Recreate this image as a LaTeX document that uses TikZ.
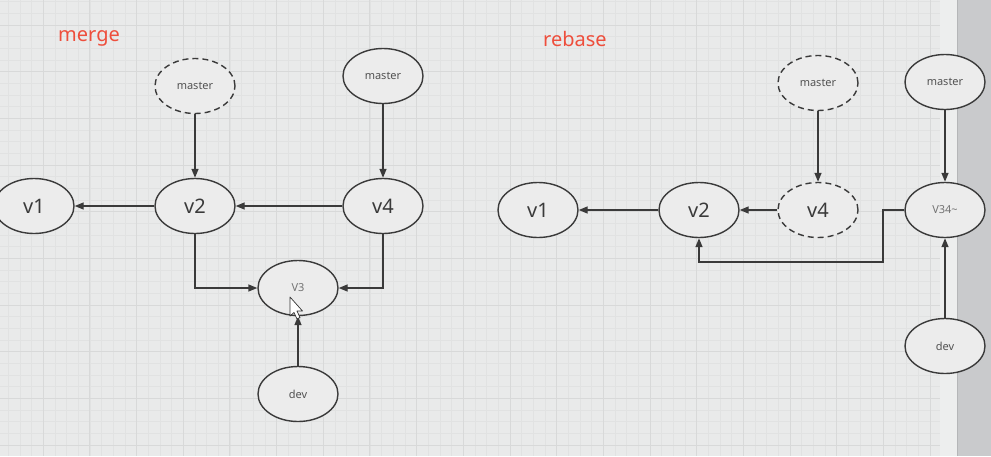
\documentclass[tikz,border=0pt]{standalone}
\usepackage{fontspec}
\setmainfont{Noto Sans}
\usetikzlibrary{arrows.meta,shapes.geometric}
\definecolor{bg}{HTML}{E9EAEA}
\definecolor{gminor}{HTML}{E1E2E2}
\definecolor{gmajor}{HTML}{D8D9D9}
\definecolor{strip}{HTML}{EDEEEE}
\definecolor{bar}{HTML}{C9CACC}
\definecolor{barline}{HTML}{B5B6B8}
\definecolor{ln}{HTML}{3A3A3A}
\definecolor{nodefill}{HTML}{ECECEC}
\definecolor{redtxt}{HTML}{EE4E3C}
\begin{document}
\begin{tikzpicture}[x=1pt,y=-1pt,
  commit/.style={ellipse,draw=ln,line width=1.4pt,fill=nodefill,minimum width=80pt,minimum height=55pt,inner sep=0pt,text=ln,font=\fontsize{20}{22}\selectfont},
  small/.style={commit,font=\fontsize{11}{13}\selectfont,text=black!68},
  ghost/.style={dash pattern=on 6pt off 4pt},
  conn/.style={draw=ln,line width=1.4pt,-{Triangle[length=9pt,width=7pt]}},
  title/.style={text=redtxt,font=\fontsize{20}{22}\selectfont}]
\useasboundingbox (0,0) rectangle (991,456);
% background
\fill[bg] (0,0) rectangle (940,456);
\fill[strip] (940,0) rectangle (957,456);
\fill[bar] (957,0) rectangle (991,456);
\draw[barline,line width=1.5pt] (957.5,0) -- (957.5,456);
\foreach \i in {0,...,79} {\draw[gminor,line width=0.8pt] ({8.33+11.667*\i},0) -- ++(0,456);}
\foreach \j in {0,...,38} {\draw[gminor,line width=0.8pt] (0,{1.6+11.667*\j}) -- (940,{1.6+11.667*\j});}
\foreach \i in {0,...,19} {\draw[gmajor,line width=1pt] ({43.3+46.67*\i},0) -- ++(0,456);}
\foreach \j in {0,...,9} {\draw[gmajor,line width=1pt] (0,{25+46.67*\j}) -- (940,{25+46.67*\j});}
% titles
\node[title] (tmerge) at (89,38) {merge};
\node[title] (trebase) at (575,39) {rebase};
% merge
\node[small,ghost] (mmd) at (195,86) {master};
\node[small] (mms) at (383,76) {master};
\node[commit] (mv1) at (34,206) {v1};
\node[commit] (mv2) at (195,206) {v2};
\node[commit] (mv4) at (383,206) {v4};
\node[small,text=black!55] (mv3) at (298,288) {V3};
\node[small] (mdev) at (298,394) {dev};
\draw[conn] (mmd.south) -- (mv2.north);
\draw[conn] (mms.south) -- (mv4.north);
\draw[conn] (mv2.west) -- (mv1.east);
\draw[conn] (mv4.west) -- (mv2.east);
\draw[conn] (mv2.south) |- (mv3.west);
\draw[conn] (mv4.south) |- (mv3.east);
\draw[conn] (mdev.north) -- (mv3.south);
% cursor
\draw[black!80,fill=white,line width=0.7pt,line join=round] (290,297) -- (290,316) -- (294,312.5) -- (297,319) -- (300,317.5) -- (297,311) -- (302.5,311) -- cycle;
% rebase
\node[small,ghost] (rmd) at (818,83) {master};
\node[small] (rms) at (945,82) {master};
\node[commit] (rv1) at (538,210) {v1};
\node[commit] (rv2) at (699,210) {v2};
\node[commit,ghost] (rv4) at (818,210) {v4};
\node[small,text=black!55] (rv34) at (945,210) {V34\textasciitilde};
\node[small] (rdev) at (945,346) {dev};
\coordinate (rk) at (883,262);
\draw[conn] (rmd.south) -- (rv4.north);
\draw[conn] (rms.south) -- (rv34.north);
\draw[conn] (rv4.west) -- (rv2.east);
\draw[conn] (rv2.west) -- (rv1.east);
\draw[conn] (rv34.west) -| (rk) -| (rv2.south);
\draw[conn] (rdev.north) -- (rv34.south);
\end{tikzpicture}
\end{document}
